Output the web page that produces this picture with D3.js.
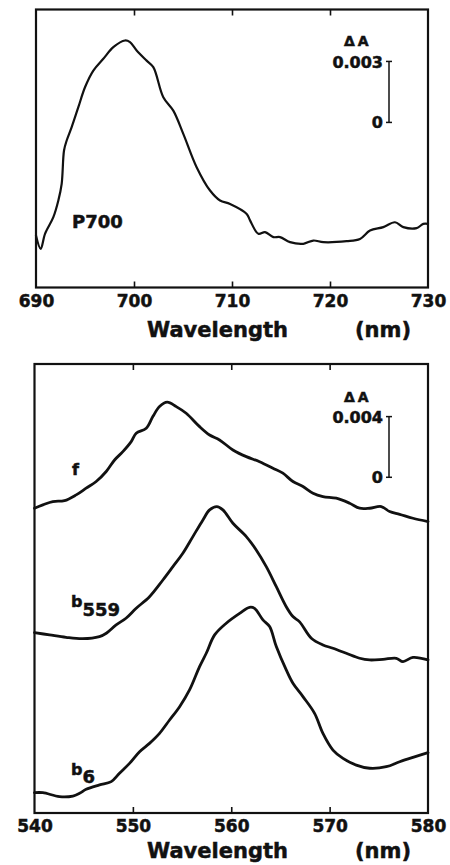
<!DOCTYPE html>
<html><head><meta charset="utf-8">
<script src="https://cdn.jsdelivr.net/npm/d3@7"></script>
<style>
html,body{margin:0;padding:0;background:#fff;}
text{font-family:"DejaVu Sans",sans-serif;font-weight:bold;fill:#111;stroke:#111;stroke-width:0.5px;}
</style></head>
<body>
<script>
// ---- data (ΔA in units of 0.001, offset from panel baseline) ----
const p700Wl = [690.0,690.48,690.92,691.77,692.28,692.62,692.86,693.13,693.64,694.32,695.0,695.85,696.87,697.89,699.08,699.59,700.27,701.29,701.97,702.99,704.01,705.03,706.39,707.76,708.78,709.8,711.5,711.84,712.69,713.37,714.22,714.9,715.92,717.28,718.3,719.32,721.7,723.06,724.08,725.44,726.63,727.48,728.84,729.52,730.0];
const p700Val = [2.56,1.90,2.64,3.46,4.28,5.10,6.74,7.23,7.89,8.87,9.85,10.67,11.25,11.82,12.15,12.07,11.66,11.16,10.84,9.36,8.70,7.56,5.92,4.77,4.28,4.11,3.62,3.30,2.64,2.72,2.48,2.48,2.23,2.15,2.31,2.23,2.28,2.39,2.80,2.97,3.21,2.97,2.92,3.13,3.13];

const fWl = [540.0,540.85,541.86,543.05,544.24,545.25,546.27,547.29,548.14,548.98,549.83,550.34,551.36,552.03,552.71,553.49,554.41,555.42,556.78,557.8,558.81,560.17,561.53,562.88,564.24,565.25,566.27,567.29,568.31,569.32,570.68,572.03,573.05,574.07,575.25,576.1,577.12,578.47,580.0];
const fVal = [20.09,20.31,20.53,20.59,20.97,21.41,21.85,22.51,23.27,23.82,24.48,25.03,25.36,26.13,26.79,27.08,26.79,26.35,25.47,24.92,24.59,23.93,23.49,23.16,22.73,22.40,21.85,21.52,21.08,20.86,20.75,20.42,20.09,20.09,20.20,19.87,19.69,19.43,19.21];

const b559Wl = [540.0,541.53,543.2,544.9,546.6,547.3,548.3,549.3,550.34,551.69,553.05,554.07,555.08,556.1,557.12,557.8,558.54,559.15,560.17,561.53,562.54,563.56,564.58,565.59,566.27,566.95,568.14,569.32,570.34,571.69,573.05,574.07,575.42,576.78,577.46,578.47,580.0];
const b559Val = [11.89,11.74,11.58,11.49,11.63,11.85,12.40,12.84,13.50,14.26,15.36,16.24,17.12,18.22,19.32,19.98,20.20,19.98,19.10,18.22,17.34,16.24,14.92,13.60,12.95,12.60,11.52,11.08,10.86,10.53,10.20,10.09,10.13,10.20,9.98,10.26,10.09];

const b6Wl = [540.0,540.85,542.54,543.9,544.58,545.25,546.61,547.8,548.64,549.66,550.68,551.69,552.71,553.73,554.75,555.76,556.78,557.46,558.31,559.49,560.85,561.86,562.37,563.22,563.9,564.58,565.59,566.27,567.29,568.47,569.32,570.34,571.36,572.71,574.07,575.76,577.12,578.47,580.0];
const b6Val = [1.34,1.34,1.08,1.12,1.30,1.56,1.85,2.07,2.62,3.27,4.04,4.59,5.25,6.13,7.01,8.11,9.65,10.53,11.74,12.51,13.16,13.56,13.49,12.73,12.29,10.97,9.43,8.55,7.67,6.57,5.25,4.15,3.60,3.16,2.95,3.05,3.38,3.67,3.98];

const topTicks = [690,700,710,720,730];
const botTicks = [540,550,560,570,580];
const topBar = {zero:8.12, span:3, label:"0.003"};
const botBar = {zero:22.13, span:4, label:"0.004"};

// ---- drawing ----
const svg = d3.select("body").append("svg").attr("width",450).attr("height",865);

function panel(o){
  const x = d3.scaleLinear().domain(o.xDomain).range([o.left,o.right]);
  const y = d3.scaleLinear().domain(o.yDomain).range([o.bottom,o.top]);
  const g = svg.append("g");
  g.append("rect").attr("x",o.left).attr("y",o.top).attr("width",o.right-o.left).attr("height",o.bottom-o.top)
    .attr("fill","none").attr("stroke","#111").attr("stroke-width",2.2);
  const inner = o.ticks.slice(1,-1);
  g.append("g").attr("transform",`translate(0,${o.bottom})`)
    .call(d3.axisTop(x).tickValues(inner).tickSize(6).tickFormat(""))
    .call(s=>{s.select(".domain").remove(); s.selectAll("line").attr("stroke","#111").attr("stroke-width",1.6);});
  g.append("g").attr("transform",`translate(0,${o.top})`)
    .call(d3.axisBottom(x).tickValues(inner).tickSize(6).tickFormat(""))
    .call(s=>{s.select(".domain").remove(); s.selectAll("line").attr("stroke","#111").attr("stroke-width",1.6);});
  g.append("g").attr("transform",`translate(0,${o.bottom})`)
    .call(d3.axisBottom(x).tickValues(o.ticks).tickSize(0).tickPadding(0).tickFormat(d3.format("d")))
    .call(s=>{s.select(".domain").remove();
      s.selectAll("text").attr("y",o.tickLabelDy).attr("dy",0).attr("font-size",17)
       .attr("font-family","DejaVu Sans").attr("font-weight","bold").attr("fill","#111");});
  g.append("text").attr("x",147).attr("y",o.titleY).attr("font-size",21).text("Wavelength");
  g.append("text").attr("x",355).attr("y",o.titleY).attr("font-size",21).text("(nm)");
  const line = d3.line().x(d=>x(d[0])).y(d=>y(d[1])).curve(d3.curveCatmullRom.alpha(0.5));
  o.series.forEach(s=>{
    g.append("path").datum(d3.zip(s.wl,s.val)).attr("d",line)
      .attr("fill","none").attr("stroke","#111").attr("stroke-width",o.lw)
      .attr("stroke-linejoin","round").attr("stroke-linecap","round");
  });
  const bx = 389, y0 = y(o.bar.zero), y1 = y(o.bar.zero+o.bar.span);
  g.append("line").attr("x1",bx).attr("x2",bx).attr("y1",y0).attr("y2",y1).attr("stroke","#111").attr("stroke-width",1.5);
  [y0,y1].forEach(yy=>g.append("line").attr("x1",bx-3).attr("x2",bx+3).attr("y1",yy).attr("y2",yy).attr("stroke","#111").attr("stroke-width",1.5));
  g.append("text").attr("x",383).attr("y",y1+6.5).attr("text-anchor","end").attr("font-size",16).text(o.bar.label);
  g.append("text").attr("x",383).attr("y",y0+6).attr("text-anchor","end").attr("font-size",16).text("0");
  g.append("text").attr("x",344).attr("y",y1-15).attr("font-size",14).attr("letter-spacing",3).text("ΔA");
  return {g,x,y};
}

const P1 = panel({xDomain:[690,730], yDomain:[0,(287.5-9.5)/20.33], left:36, right:428, top:9.5, bottom:287.5,
  ticks:topTicks, tickLabelDy:19, titleY:337, lw:2.2, bar:topBar,
  series:[{wl:p700Wl,val:p700Val}]});
P1.g.append("text").attr("x",72).attr("y",228).attr("font-size",18).text("P700");

const P2 = panel({xDomain:[540,580], yDomain:[0,(813-364)/15.17], left:34.5, right:428, top:364, bottom:813,
  ticks:botTicks, tickLabelDy:19, titleY:858, lw:2.8, bar:botBar,
  series:[{wl:fWl,val:fVal},{wl:b559Wl,val:b559Val},{wl:b6Wl,val:b6Val}]});
P2.g.append("text").attr("x",72).attr("y",475).attr("font-size",16).text("f");
const t1 = P2.g.append("text").attr("x",71).attr("y",607).attr("font-size",16);
t1.append("tspan").text("b");
t1.append("tspan").attr("dy",9).attr("font-size",18).text("559");
const t2 = P2.g.append("text").attr("x",71).attr("y",775).attr("font-size",16);
t2.append("tspan").text("b");
t2.append("tspan").attr("dy",8).attr("font-size",18).text("6");
</script>
</body></html>
